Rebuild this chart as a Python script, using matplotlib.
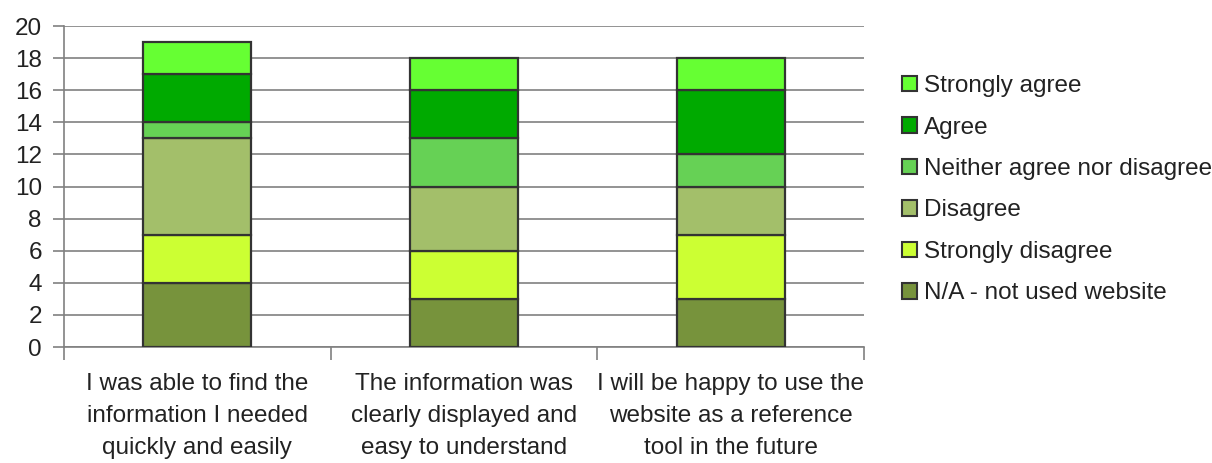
import numpy as np
from matplotlib import pyplot as plt
from matplotlib.patches import Patch

plt.rcParams['font.family'] = ['Liberation Sans', 'DejaVu Sans']

questions = ['I was able to find the\ninformation I needed\nquickly and easily',
             'The information was\nclearly displayed and\neasy to understand',
             'I will be happy to use the\nwebsite as a reference\ntool in the future']
responses = ['N/A - not used website', 'Strongly disagree', 'Disagree',
             'Neither agree nor disagree', 'Agree', 'Strongly agree']
na = [4, 3, 3]
strongly_disagree = [3, 3, 4]
disagree = [6, 4, 3]
neither = [1, 3, 2]
agree = [3, 3, 4]
strongly_agree = [2, 2, 2]
series = [na, strongly_disagree, disagree, neither, agree, strongly_agree]
colors = ['#77933c', '#ccff33', '#a3bf6a', '#66d155', '#00aa00', '#66ff33']

fig = plt.figure(figsize=(12.12, 4.63), dpi=100)
ax = fig.add_axes([64/1212, 116/463, 800/1212, 321/463])

x = np.arange(len(questions))
bottom = np.zeros(len(questions))
for vals, c, lab in zip(series, colors, responses):
    ax.bar(x, vals, width=0.405, bottom=bottom, color=c, edgecolor='#333333',
           linewidth=1.6, label=lab, zorder=3)
    bottom += np.array(vals)

ax.set_xlim(-0.5, 2.5)
ax.set_ylim(0, 20)
ax.set_yticks(range(0, 21, 2))
ax.yaxis.grid(True, color='#808080', linewidth=1.2, zorder=0)
ax.tick_params(axis='y', labelsize=17.5, length=8, color='#808080', width=1.2,
               labelcolor='#222222', pad=8)
ax.set_xticks([-0.5, 0.5, 1.5, 2.5])
ax.set_xticklabels([])
ax.tick_params(axis='x', which='major', length=9, color='#808080', width=1.2)
ax.set_xticks(x, minor=True)
ax.set_xticklabels(questions, minor=True, fontsize=17.5, color='#222222',
                   linespacing=1.57)
ax.tick_params(axis='x', which='minor', length=0, pad=19)
for s in ['top', 'right']:
    ax.spines[s].set_visible(False)
for s in ['left', 'bottom']:
    ax.spines[s].set_color('#808080')
    ax.spines[s].set_linewidth(1.2)

handles = [Patch(facecolor=c, edgecolor='#333333', linewidth=1.5) for c in colors]
leg = fig.legend(handles[::-1], responses[::-1], loc='upper left',
                 bbox_to_anchor=(890/1212, 1 - 63/463), frameon=False,
                 fontsize=17.5, handlelength=0.6, handleheight=0.6,
                 handletextpad=0.3, labelspacing=0.8, borderpad=0)
for t in leg.get_texts():
    t.set_color('#222222')

fig.savefig('out.png', dpi=100)
